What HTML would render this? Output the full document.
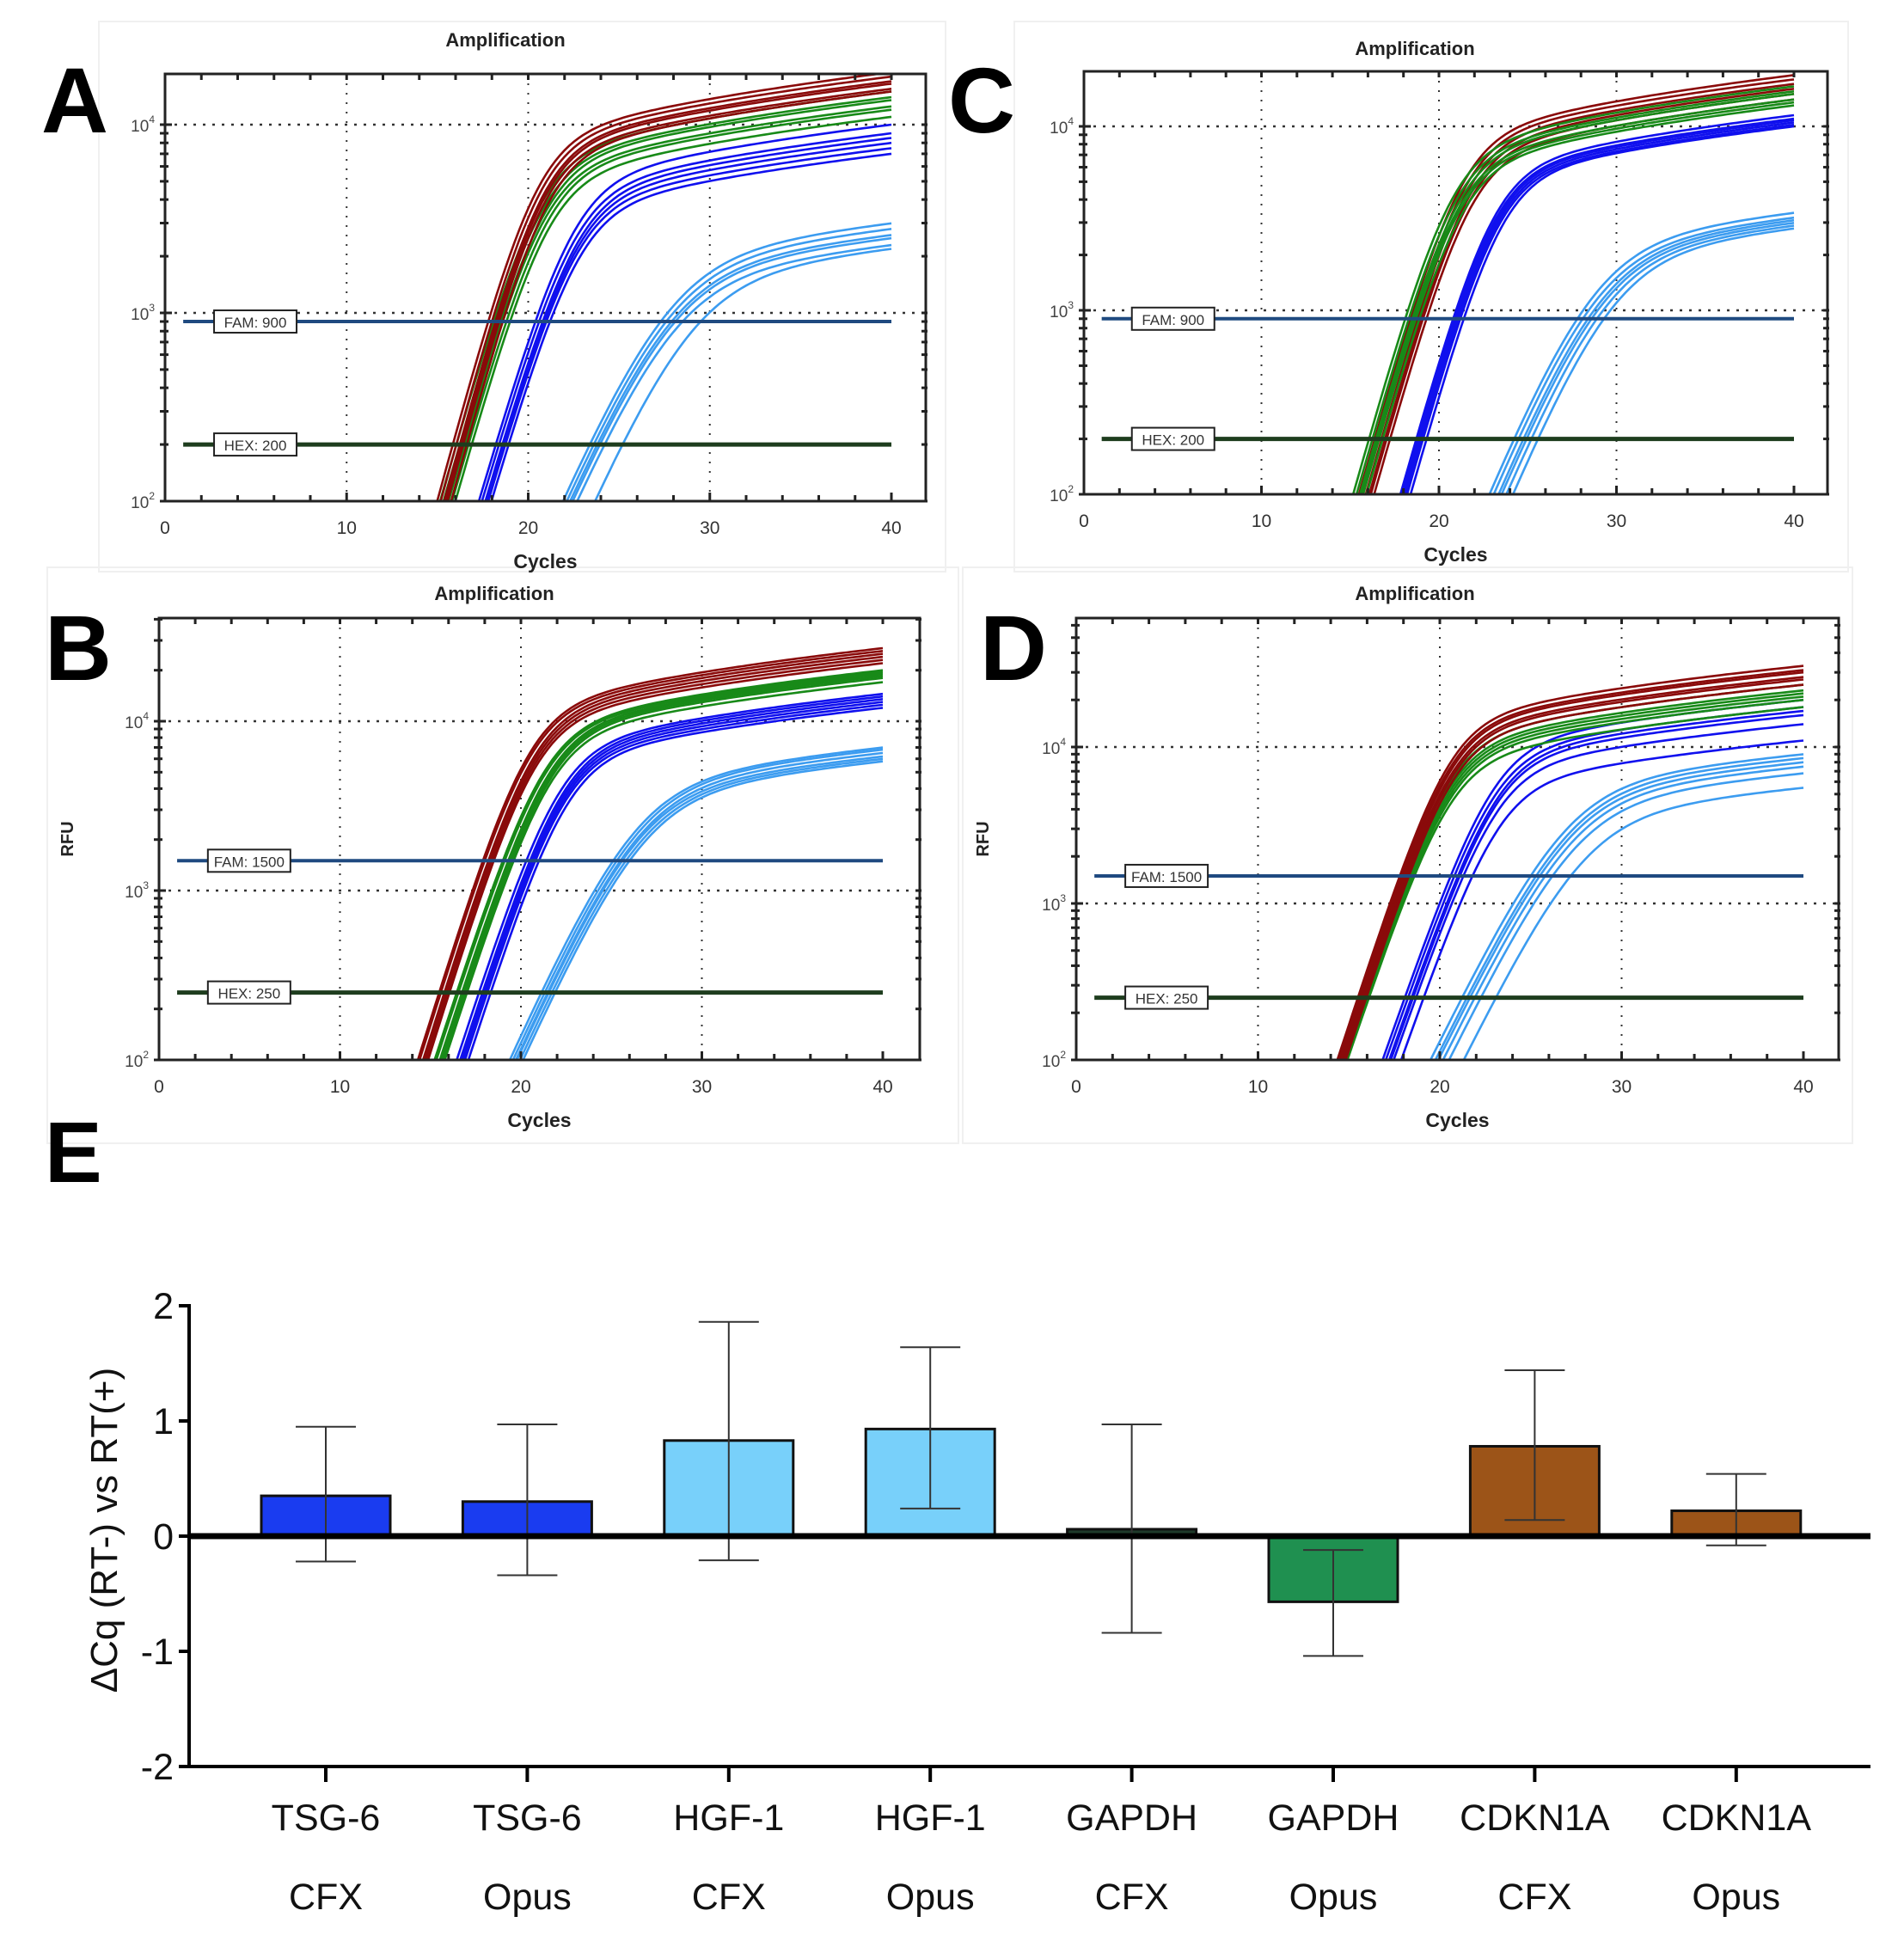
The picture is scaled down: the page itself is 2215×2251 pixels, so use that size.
<!DOCTYPE html>
<html><head><meta charset="utf-8">
<style>
html,body{margin:0;padding:0;background:#fff;}
svg{display:block;font-family:"Liberation Sans",sans-serif;}
</style></head>
<body>
<svg id="fig" width="2215" height="2251" viewBox="0 0 2215 2251" xmlns="http://www.w3.org/2000/svg">
  <rect x="0" y="0" width="2215" height="2251" fill="#fff"/>
  <rect x="115" y="25" width="985" height="640" fill="none" stroke="#f0f0f0" stroke-width="2"/>
  <rect x="1180" y="25" width="970" height="640" fill="none" stroke="#f0f0f0" stroke-width="2"/>
  <rect x="55" y="660" width="1060" height="670" fill="none" stroke="#f0f0f0" stroke-width="2"/>
  <rect x="1120" y="660" width="1035" height="670" fill="none" stroke="#f0f0f0" stroke-width="2"/>
  <text x="48" y="154" font-size="108" font-weight="bold">A</text>
  <text x="1103" y="154" font-size="108" font-weight="bold">C</text>
  <text x="52" y="791" font-size="108" font-weight="bold">B</text>
  <text x="1140" y="791" font-size="108" font-weight="bold">D</text>
  <text x="52" y="1375" font-size="100" font-weight="bold">E</text>
  <g id="amp"></g>
  <g id="bars"></g>
</svg>
<script>
// ---- Amplification data: threshold-crossing cycles (Cq) and final RFU (cycle 40) per replicate ----
const aRedCq=[17.8,18.0,18.2,18.3,18.4,18.6];
const aRedPlateau=[19000,18000,17000,16500,15500,15000];
const aGreenCq=[18.1,18.3,18.5,18.6,18.8,19.0];
const aGreenPlateau=[15000,14000,13500,12500,12000,11000];
const aBlueCq=[20.4,20.6,20.8,20.9,21.0,21.2];
const aBluePlateau=[10000,9000,8500,8000,7500,7000];
const aLightCq=[27.3,27.6,27.9,28.1,28.5,29.5];
const aLightPlateau=[3000,2800,2600,2500,2300,2200];

const cRedCq=[18.4,18.6,18.8,19.0,19.1,19.3];
const cRedPlateau=[19000,18000,17000,16000,15000,14000];
const cGreenCq=[18.1,18.3,18.5,18.6,18.7,18.9];
const cGreenPlateau=[16500,15500,15000,14000,13500,13000];
const cBlueCq=[20.8,20.9,21.0,21.1,21.2,21.4];
const cBluePlateau=[11500,11000,10800,10500,10200,10000];
const cLightCq=[27.8,28.1,28.4,28.6,28.9,29.3];
const cLightPlateau=[3400,3200,3100,3000,2900,2800];

const bRedCq=[17.9,18.0,18.2,18.3,18.4,18.5];
const bRedPlateau=[27000,26000,25000,24000,23000,22000];
const bGreenCq=[19.0,19.1,19.3,19.4,19.5,19.6];
const bGreenPlateau=[20000,19500,19000,18500,18000,17000];
const bBlueCq=[20.3,20.5,20.6,20.7,20.8,21.0];
const bBluePlateau=[14500,14000,13500,13000,12500,12000];
const bLightCq=[25.1,25.3,25.5,25.6,25.8,26.0];
const bLightPlateau=[7000,6800,6500,6200,6000,5800];

const dRedCq=[17.8,17.9,18.0,18.1,18.2,18.3];
const dRedPlateau=[33000,31000,30000,28000,27000,25000];
const dGreenCq=[18.1,18.2,18.3,18.4,18.5,18.6];
const dGreenPlateau=[25000,23000,22000,21000,20000,18000];
const dBlueCq=[20.6,20.8,21.0,21.1,21.3,21.8];
const dBluePlateau=[20000,18000,17000,16000,14000,11000];
const dLightCq=[25.0,25.3,25.5,25.8,26.2,27.2];
const dLightPlateau=[9000,8500,8000,7500,6800,5500];

const fams=[900,900,1500,1500];
const hexes=[200,200,250,250];
const xTicks=[0,10,20,30,40];

// bar chart data
const barCategories=["TSG-6","TSG-6","HGF-1","HGF-1","GAPDH","GAPDH","CDKN1A","CDKN1A"];
const barInstruments=["CFX","Opus","CFX","Opus","CFX","Opus","CFX","Opus"];
const barValues=[0.35,0.30,0.83,0.93,0.06,-0.57,0.78,0.22];
const barUpper=[0.95,0.97,1.86,1.64,0.97,-0.12,1.44,0.54];
const barLower=[-0.22,-0.34,-0.21,0.24,-0.84,-1.04,0.14,-0.08];
const yTicks=[2,1,0,-1,-2];

const NS="http://www.w3.org/2000/svg";
function mk(tag,attrs,parent){const e=document.createElementNS(NS,tag);for(const k in attrs)e.setAttribute(k,attrs[k]);parent.appendChild(e);return e;}

const panels=[
 {key:"a",x0:192,x40:1037,right:1077,top:86,bottom:583,y3:364,tx:588,ty:54,rfu:false,
  groups:[[aLightCq,aLightPlateau,"#3c9cf0",4.5],[aBlueCq,aBluePlateau,"#1010ee",3.0],[aGreenCq,aGreenPlateau,"#188a18",2.9],[aRedCq,aRedPlateau,"#8a0a0a",2.8]]},
 {key:"c",x0:1261,x40:2087,right:2126,top:83,bottom:575,y3:361,tx:1646,ty:64,rfu:false,
  groups:[[cLightCq,cLightPlateau,"#3c9cf0",4.3],[cBlueCq,cBluePlateau,"#1010ee",2.9],[cRedCq,cRedPlateau,"#8a0a0a",2.9],[cGreenCq,cGreenPlateau,"#188a18",2.9]]},
 {key:"b",x0:185,x40:1027,right:1070,top:719,bottom:1233,y3:1036,tx:575,ty:698,rfu:true,rx:85,
  groups:[[bLightCq,bLightPlateau,"#3c9cf0",4.2],[bBlueCq,bBluePlateau,"#1010ee",3.0],[bGreenCq,bGreenPlateau,"#188a18",3.0],[bRedCq,bRedPlateau,"#8a0a0a",2.9]]},
 {key:"d",x0:1252,x40:2098,right:2139,top:719,bottom:1233,y3:1051,tx:1646,ty:698,rfu:true,rx:1150,
  groups:[[dLightCq,dLightPlateau,"#3c9cf0",4.2],[dBlueCq,dBluePlateau,"#1010ee",3.0],[dGreenCq,dGreenPlateau,"#188a18",2.9],[dRedCq,dRedPlateau,"#8a0a0a",2.8]]}
];

const amp=document.getElementById('amp');
panels.forEach((p,pi)=>{
  const g=mk('g',{},amp);
  
  
  const dec=p.bottom-p.y3;
  const xs=c=>p.x0+(p.x40-p.x0)*c/40;
  const ys=v=>p.bottom-dec*(Math.log10(v)-2);
  // grid
  [10,20,30].forEach(c=>{const l=mk('line',{x1:xs(c),x2:xs(c),y1:p.top,y2:p.bottom,stroke:"#333","stroke-width":2,"stroke-dasharray":"2,9"},g);});
  [1000,10000].forEach(v=>{if(ys(v)>p.top){const l=mk('line',{x1:p.x0,x2:p.right,y1:ys(v),y2:ys(v),stroke:"#333","stroke-width":2.5,"stroke-dasharray":"3,8"},g);}});
  // curves
  const clip=mk('clipPath',{id:'clip'+p.key},g);
  mk('rect',{x:p.x0,y:p.top,width:p.right-p.x0,height:p.bottom-p.top},clip);
  const cg=mk('g',{"clip-path":"url(#clip"+p.key+")"},g);
  const T=fams[pi];
  const Pc=(P40,c)=>P40*Math.min(1,Math.max(0.3,0.3+0.7*(c-15)/25));
  p.groups.forEach(gr=>{
    const [cqs,pls,col,d]=gr;
    cqs.forEach((cq,i)=>{
      const P40=pls[i];
      const E0=1/(1/T-1/Pc(P40,cq));
      let path="";
      for(let c=10;c<=40.001;c+=0.25){
        const E=E0*Math.pow(10,(c-cq)/d);
        const v=1/(1/Pc(P40,c)+1/E);
        const y=Math.min(ys(Math.max(v,10)),p.bottom+60);
        path+=(path?"L":"M")+xs(c).toFixed(1)+","+y.toFixed(1);
      }
      const el=mk('path',{d:path,fill:"none",stroke:col,"stroke-width":2.6},cg);
      
      
    });
  });
  // threshold lines
  const fy=ys(fams[pi]), hy=ys(hexes[pi]);
  const fl=mk('line',{x1:xs(1),x2:xs(40),y1:fy,y2:fy,stroke:"#1f4a80","stroke-width":4},g);
  
  const hl=mk('line',{x1:xs(1),x2:xs(40),y1:hy,y2:hy,stroke:"#1e3d1e","stroke-width":5},g);
  
  [[fy,"FAM: "+fams[pi],'fam-threshold-label'],[hy,"HEX: "+hexes[pi],'hex-threshold-label']].forEach(q=>{
    const bx=xs(2.7);
    mk('rect',{x:bx,y:q[0]-13,width:96,height:26,fill:"#fff",stroke:"#222","stroke-width":2},g);
    const t=mk('text',{x:bx+48,y:q[0]+7,"font-size":17,"text-anchor":"middle",fill:"#333"},g);
    t.textContent=q[1];
    
  });
  // frame
  mk('rect',{x:p.x0,y:p.top,width:p.right-p.x0,height:p.bottom-p.top,fill:"none",stroke:"#222","stroke-width":3},g);
  // ticks
  for(let c=0;c<=40;c+=2){const big=c%10==0;mk('line',{x1:xs(c),x2:xs(c),y1:p.bottom,y2:p.bottom-(big?10:7),stroke:"#222","stroke-width":3},g);mk('line',{x1:xs(c),x2:xs(c),y1:p.top,y2:p.top+7,stroke:"#222","stroke-width":3},g);}
  for(let e=2;e<5;e++)for(let j=1;j<10;j++){const v=j*Math.pow(10,e);const y=ys(v);if(y<p.top)continue;mk('line',{x1:p.x0-6,x2:p.x0+(j==1?8:4),y1:y,y2:y,stroke:"#222","stroke-width":3},g);mk('line',{x1:p.right-5,x2:p.right+2,y1:y,y2:y,stroke:"#222","stroke-width":3},g);}
  xTicks.forEach(c=>{const t=mk('text',{x:xs(c),y:p.bottom+38,"font-size":21,"text-anchor":"middle",fill:"#333"},g);t.textContent=c;});
  [2,3,4].forEach(e=>{const y=ys(Math.pow(10,e));if(y<p.top-5)return;const t=mk('text',{x:p.x0-12,y:y+8,"font-size":19,"text-anchor":"end",fill:"#444"},g);t.textContent="10";const s=mk('tspan',{dy:-10,"font-size":12},t);s.textContent=e;});
  const xt=mk('text',{x:(p.x0+p.right)/2,y:p.bottom+78,"font-size":23,"font-weight":"bold","text-anchor":"middle",fill:"#222"},g);xt.textContent="Cycles";
  
  const tt=mk('text',{x:p.tx,y:p.ty,"font-size":22,"font-weight":"bold","text-anchor":"middle",fill:"#222"},g);tt.textContent="Amplification";
  
  if(p.rfu){const r=mk('text',{x:p.rx,y:(p.top+p.bottom)/2,"font-size":20,"font-weight":"bold","text-anchor":"middle",fill:"#222",transform:"rotate(-90 "+p.rx+" "+((p.top+p.bottom)/2)+")"},g);r.textContent="RFU";
    }
});

// ---- Bar chart E ----
const bg=document.getElementById('bars');


const axX=220, axR=2176, y0=1787, unit=134;
const by=v=>y0-v*unit;
const bx=i=>379+i*234.4;
const barColors=["#1a3cf0","#1a3cf0","#78d0fa","#78d0fa","#1e3a2a","#1f9050","#9c5418","#9c5418"];
barValues.forEach((v,i)=>{
  const r=mk('rect',{x:bx(i)-75,y:Math.min(by(v),y0),width:150,height:Math.abs(by(v)-y0),fill:barColors[i],stroke:"#111","stroke-width":3},bg);
  
  
});
barValues.forEach((v,i)=>{
  const g=mk('g',{stroke:"#333","stroke-width":2},bg);
  
  
  mk('line',{x1:bx(i),x2:bx(i),y1:by(barUpper[i]),y2:by(barLower[i])},g);
  mk('line',{x1:bx(i)-35,x2:bx(i)+35,y1:by(barUpper[i]),y2:by(barUpper[i])},g);
  mk('line',{x1:bx(i)-35,x2:bx(i)+35,y1:by(barLower[i]),y2:by(barLower[i])},g);
});
const zl=mk('line',{x1:axX,x2:axR,y1:y0,y2:y0,stroke:"#000","stroke-width":7},bg);

const ya=mk('line',{x1:axX,x2:axX,y1:by(2)-2,y2:by(-2)+2,stroke:"#000","stroke-width":4},bg);

const xa=mk('line',{x1:axX,x2:axR,y1:by(-2),y2:by(-2),stroke:"#000","stroke-width":4},bg);

yTicks.forEach(v=>{
  mk('line',{x1:axX-12,x2:axX,y1:by(v),y2:by(v),stroke:"#000","stroke-width":4},bg);
  const t=mk('text',{x:axX-18,y:by(v)+15,"font-size":43,"text-anchor":"end",fill:"#111"},bg);
  t.textContent=v;
  
});
barCategories.forEach((c,i)=>{
  mk('line',{x1:bx(i),x2:bx(i),y1:by(-2),y2:by(-2)+18,stroke:"#000","stroke-width":4},bg);
  const t1=mk('text',{x:bx(i),y:2129,"font-size":43,"text-anchor":"middle",fill:"#111"},bg);t1.textContent=c;
  
  const t2=mk('text',{x:bx(i),y:2221,"font-size":43,"text-anchor":"middle",fill:"#111"},bg);t2.textContent=barInstruments[i];
  
});
const yt=mk('text',{x:136,y:1780,"font-size":44,"text-anchor":"middle",fill:"#111",transform:"rotate(-90 136 1780)"},bg);
yt.textContent="ΔCq (RT-) vs RT(+)";

</script>
</body></html>
